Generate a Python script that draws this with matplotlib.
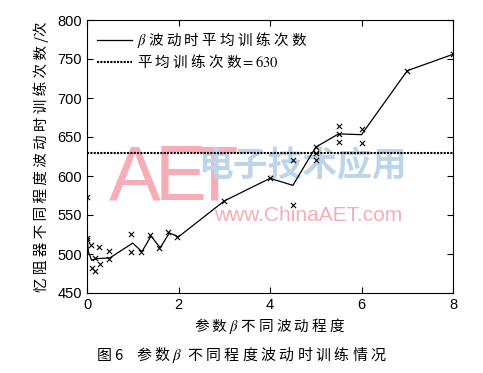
import matplotlib
matplotlib.use('Agg')
import matplotlib.pyplot as plt
import numpy as np

plt.rcParams['font.family'] = ['Noto Sans CJK SC', 'DejaVu Sans']
plt.rcParams['mathtext.fontset'] = 'stix'

# mean training count per fluctuation level (line)
line_x = [0, 0, 0.03, 0.1, 0.2, 0.5, 1.0, 1.2, 1.4, 1.6, 1.8, 2.0, 3, 4, 4.5, 5, 5.5, 6, 7, 8]
line_y = [573, 521, 503, 492, 494, 495, 514, 503, 523, 508, 527, 522, 568, 597, 588, 637, 654, 653, 735, 756]

# single runs (crosses)
pts_x = [0, 0, 0, 0.08, 0.1, 0.17, 0.17, 0.26, 0.28, 0.47, 0.47, 0.96, 0.96,
         1.18, 1.38, 1.57, 1.76, 1.97, 3, 4, 4.5, 4.5, 5, 5, 5, 5.5, 5.5, 5.5, 6, 6, 7, 8]
pts_y = [573, 521, 518, 511, 482, 495, 478, 509, 487, 504, 494, 526, 502,
         503, 524, 508, 528, 522, 568, 597, 620, 563, 637, 629, 620, 664, 654, 644, 660, 642, 735, 756]

baseline = 630
xticks = [0, 2, 4, 6, 8]
yticks = [450, 500, 550, 600, 650, 700, 750, 800]

fig = plt.figure(figsize=(4.83, 3.73), dpi=100)
ax = fig.add_axes([87/483, 1-293/373, 366/483, 273/373])
ax.patch.set_alpha(0)

# watermark behind the axes
pink = '#f6adb8'
for ch, xc in zip('AET', [135, 181, 214]):
    fig.text(xc/483, 1-180/373, ch, fontsize=56, color=pink, family='Liberation Sans',
             ha='center', va='center', zorder=-1)
fig.text(302/483, 1-166/373, '电子技术应用', fontsize=25, color='#bcd5ea', ha='center', va='center',
         fontweight='bold', style='italic', zorder=-1)
fig.text(308/483, 1-215/373, 'www.ChinaAET.com', fontsize=15, color=pink, family='Liberation Sans',
         ha='center', va='center', zorder=-1)

ax.plot(line_x, line_y, color='black', lw=0.9, label='$\\beta$ 波 动 时 平 均 训 练 次 数')
ax.axhline(baseline, color='black', lw=1.5, ls=(0, (1, 0.6)), label='平 均 训 练 次 数$=630$')
ax.scatter(pts_x, pts_y, marker='x', s=14, color='black', lw=0.8, zorder=3)

ax.set_xlim(0, 8)
ax.set_ylim(450, 800)
ax.set_xticks(xticks)
ax.set_yticks(yticks)
ax.tick_params(direction='in', top=True, right=True, length=4, labelsize=10.5)
for lab in ax.get_xticklabels() + ax.get_yticklabels():
    lab.set_family('Liberation Sans')
for s in ax.spines.values():
    s.set_linewidth(0.8)

ax.set_xlabel('参 数 $\\beta$ 不 同 波 动 程 度', fontsize=10.5, labelpad=3)
ax.set_ylabel('忆 阻 器 不 同 程 度 波 动 时 训 练 次 数 /次', fontsize=10.5, labelpad=6)

leg = ax.legend(loc='upper left', frameon=False, fontsize=10.5, handlelength=2.4,
                handletextpad=0.3, labelspacing=0.2, borderaxespad=0.3)

fig.text(242/483, 1-355/373, '图 6    参 数 $\\beta$  不 同 程 度 波 动 时 训 练 情 况',
         fontsize=10.8, ha='center', va='center')

fig.savefig('out.png', dpi=100)
